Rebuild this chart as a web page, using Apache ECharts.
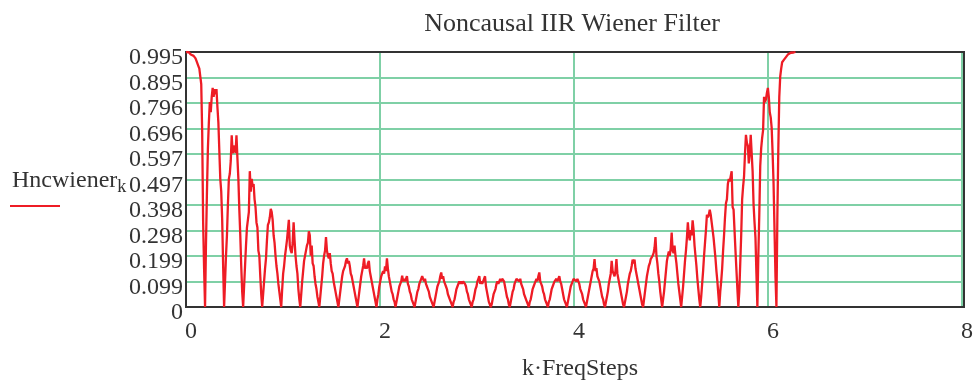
<!DOCTYPE html>
<html>
<head>
<meta charset="utf-8">
<script src="https://cdn.jsdelivr.net/npm/echarts@6/dist/echarts.min.js"></script>
<style>html,body{margin:0;padding:0;background:#fff;}#c{width:976px;height:386px;}</style>
</head>
<body>
<div id="c"></div>
<script>
const chartTitle = 'Noncausal IIR Wiener Filter';
const xName = 'k·FreqSteps';
const yName = 'Hncwiener';
const ySub = 'k';
const freqStep = 0.0098175;
const xTicks = [0, 2, 4, 6, 8];
const yTickLabels = ['0','0.099','0.199','0.298','0.398','0.497','0.597','0.696','0.796','0.895','0.995'];
const hncwiener = [
  0.995,0.99,0.993,0.994,0.99,0.985,0.985,0.99,0.98,0.975,0.97,0.96,0.955,0.94,0.93,0.9,0.87,0.68,0.33,0.15,0,
  0.25,0.45,0.62,0.72,0.80,0.76,0.82,0.855,0.82,0.85,0.83,0.85,0.78,0.72,0.61,0.5,0.45,0.34,0.16,0,
  0.1,0.2,0.28,0.4,0.5,0.52,0.57,0.67,0.6,0.62,0.63,0.6,0.67,0.58,0.5,0.38,0.28,0.16,0.06,0,
  0.08,0.16,0.24,0.31,0.34,0.37,0.53,0.45,0.5,0.47,0.48,0.42,0.39,0.33,0.31,0.22,0.2,0.12,0.05,0,
  0.05,0.1,0.15,0.19,0.26,0.32,0.33,0.35,0.383,0.37,0.34,0.28,0.25,0.2,0.16,0.13,0.09,0.06,0.03,0,
  0.07,0.13,0.16,0.2,0.23,0.26,0.3,0.34,0.24,0.22,0.21,0.25,0.33,0.26,0.2,0.16,0.13,0.07,0.03,0,
  0.05,0.1,0.14,0.18,0.2,0.22,0.24,0.25,0.295,0.28,0.2,0.24,0.17,0.16,0.12,0.09,0.07,0.04,0.02,0,
  0.04,0.08,0.12,0.17,0.2,0.22,0.273,0.22,0.2,0.19,0.21,0.17,0.14,0.13,0.1,0.08,0.06,0.04,0.02,0,
  0.03,0.06,0.09,0.12,0.14,0.15,0.16,0.18,0.19,0.17,0.18,0.16,0.13,0.12,0.1,0.08,0.06,0.04,0.02,0,
  0.03,0.06,0.09,0.12,0.14,0.16,0.19,0.15,0.16,0.15,0.17,0.18,0.14,0.12,0.1,0.08,0.06,0.04,0.02,0,
  0.03,0.05,0.08,0.1,0.12,0.13,0.14,0.13,0.158,0.14,0.19,0.15,0.12,0.1,0.08,0.06,0.05,0.03,0.02,0,
  0.02,0.04,0.06,0.08,0.09,0.1,0.122,0.1,0.11,0.1,0.11,0.12,0.09,0.08,0.06,0.05,0.03,0.02,0.01,0,
  0.02,0.04,0.06,0.07,0.09,0.1,0.11,0.12,0.11,0.1,0.11,0.09,0.08,0.07,0.06,0.04,0.03,0.02,0.01,0,
  0.02,0.04,0.06,0.08,0.09,0.1,0.12,0.135,0.11,0.12,0.1,0.09,0.08,0.07,0.05,0.04,0.03,0.02,0.01,0,
  0.02,0.03,0.05,0.07,0.08,0.09,0.1,0.09,0.1,0.09,0.1,0.105,0.09,0.08,0.06,0.05,0.03,0.02,0.01,0,
  0.02,0.03,0.05,0.07,0.08,0.1,0.11,0.12,0.09,0.1,0.09,0.1,0.11,0.12,0.08,0.06,0.04,0.02,0.01,0,
  0.01,0.03,0.05,0.06,0.07,0.09,0.1,0.09,0.1,0.11,0.1,0.11,0.117,0.1,0.08,0.06,0.04,0.03,0.01,0,
  0.02,0.04,0.06,0.07,0.09,0.1,0.11,0.11,0.117,0.1,0.11,0.09,0.08,0.07,0.05,0.04,0.03,0.02,0.01,0,
  0.02,0.03,0.05,0.07,0.08,0.09,0.1,0.11,0.1,0.12,0.135,0.1,0.09,0.08,0.06,0.05,0.03,0.02,0.01,0,
  0.02,0.03,0.05,0.07,0.08,0.09,0.1,0.1,0.11,0.1,0.1,0.12,0.1,0.09,0.07,0.05,0.03,0.02,0.01,0,
  0.02,0.04,0.06,0.08,0.09,0.1,0.11,0.117,0.11,0.1,0.11,0.1,0.09,0.07,0.06,0.05,0.03,0.02,0.01,0,
  0.02,0.04,0.06,0.08,0.1,0.12,0.14,0.15,0.187,0.14,0.152,0.12,0.11,0.1,0.08,0.06,0.04,0.03,0.01,0,
  0.02,0.04,0.06,0.09,0.11,0.13,0.18,0.14,0.13,0.12,0.14,0.187,0.13,0.11,0.09,0.07,0.05,0.03,0.01,0,
  0.02,0.04,0.06,0.09,0.11,0.13,0.14,0.16,0.185,0.17,0.185,0.15,0.13,0.11,0.09,0.07,0.05,0.03,0.01,0,
  0.03,0.06,0.09,0.12,0.14,0.16,0.17,0.187,0.18,0.2,0.21,0.23,0.273,0.2,0.17,0.13,0.1,0.06,0.03,0,
  0.03,0.06,0.1,0.14,0.18,0.2,0.217,0.2,0.23,0.29,0.22,0.21,0.24,0.2,0.17,0.13,0.09,0.06,0.03,0,
  0.04,0.08,0.13,0.18,0.22,0.27,0.33,0.28,0.26,0.3,0.28,0.338,0.3,0.24,0.2,0.16,0.11,0.07,0.03,0,
  0.04,0.09,0.14,0.2,0.25,0.3,0.36,0.35,0.36,0.38,0.36,0.33,0.3,0.27,0.23,0.19,0.14,0.1,0.05,0,
  0.06,0.1,0.15,0.22,0.28,0.35,0.405,0.42,0.48,0.5,0.49,0.51,0.53,0.39,0.38,0.3,0.22,0.145,0.07,0,
  0.06,0.17,0.28,0.42,0.47,0.51,0.6,0.672,0.64,0.63,0.56,0.6,0.672,0.6,0.53,0.4,0.33,0.27,0.13,0,
  0.2,0.36,0.55,0.62,0.66,0.69,0.82,0.8,0.81,0.835,0.855,0.82,0.76,0.74,0.70,0.6,0.48,0.3,0.12,0,
  0.36,0.62,0.82,0.9,0.93,0.955,0.96,0.965,0.97,0.975,0.98,0.985,0.988,0.99,0.992,0.992,0.994,0.993,0.995,0.995
];

const FONT = "'Liberation Serif','Times New Roman',serif";
const TXT = '#333';
const GRID = '#7fd0a6';
const RED = '#ee1c25';

const chart = echarts.init(document.getElementById('c'), null, {renderer: 'canvas'});
chart.setOption({
  animation: false,
  backgroundColor: '#fff',
  grid: {left: 186, right: 12, top: 52, bottom: 79, show: false},
  xAxis: {
    type: 'value', min: xTicks[0], max: xTicks[xTicks.length - 1], interval: 2,
    axisLine: {show: true, lineStyle: {color: '#333', width: 2}},
    axisTick: {show: false},
    splitLine: {show: true, lineStyle: {color: GRID, width: 2}},
    axisLabel: {color: TXT, fontFamily: FONT, fontSize: 24, margin: 13, padding: [0, 0, 0, 10]}
  },
  yAxis: {
    type: 'value', min: 0, max: 0.995, interval: 0.0995,
    axisLine: {show: true, lineStyle: {color: '#333', width: 2}},
    axisTick: {show: false},
    splitLine: {show: true, lineStyle: {color: GRID, width: 2}},
    axisLabel: {color: TXT, fontFamily: FONT, fontSize: 24, margin: 3, verticalAlign: 'top', lineHeight: 12,
      formatter: function (v) { return yTickLabels[Math.round(v / 0.0995)]; }}
  },
  graphic: [
    {type: 'rect', z: 2, shape: {x: 186, y: 52, width: 778, height: 255}, style: {fill: null, stroke: '#333', lineWidth: 2}},
    {type: 'text', x: 572, y: 24, style: {text: chartTitle, fill: TXT, font: '26px ' + FONT, align: 'center', verticalAlign: 'middle'}},
    {type: 'text', x: 580, y: 369, style: {text: xName, fill: TXT, font: '24px ' + FONT, align: 'center', verticalAlign: 'middle'}},
    {type: 'text', x: 12, y: 181, style: {
      text: '{a|' + yName + '}{b|' + ySub + '}', fill: TXT, verticalAlign: 'middle',
      rich: {a: {fontFamily: FONT, fontSize: 24, fill: TXT, lineHeight: 30, verticalAlign: 'middle'},
             b: {fontFamily: FONT, fontSize: 18, fill: TXT, lineHeight: 30, verticalAlign: 'bottom', padding: [20, 0, 0, 0]}}
    }},
    {type: 'line', shape: {x1: 10, y1: 206, x2: 60, y2: 206}, style: {stroke: RED, lineWidth: 2}}
  ],
  series: [{
    type: 'line', showSymbol: false, smooth: false, z: 3,
    lineStyle: {color: RED, width: 2.3},
    data: hncwiener.map(function (v, k) { return [k * freqStep, v]; })
  }]
});
</script>
</body>
</html>
